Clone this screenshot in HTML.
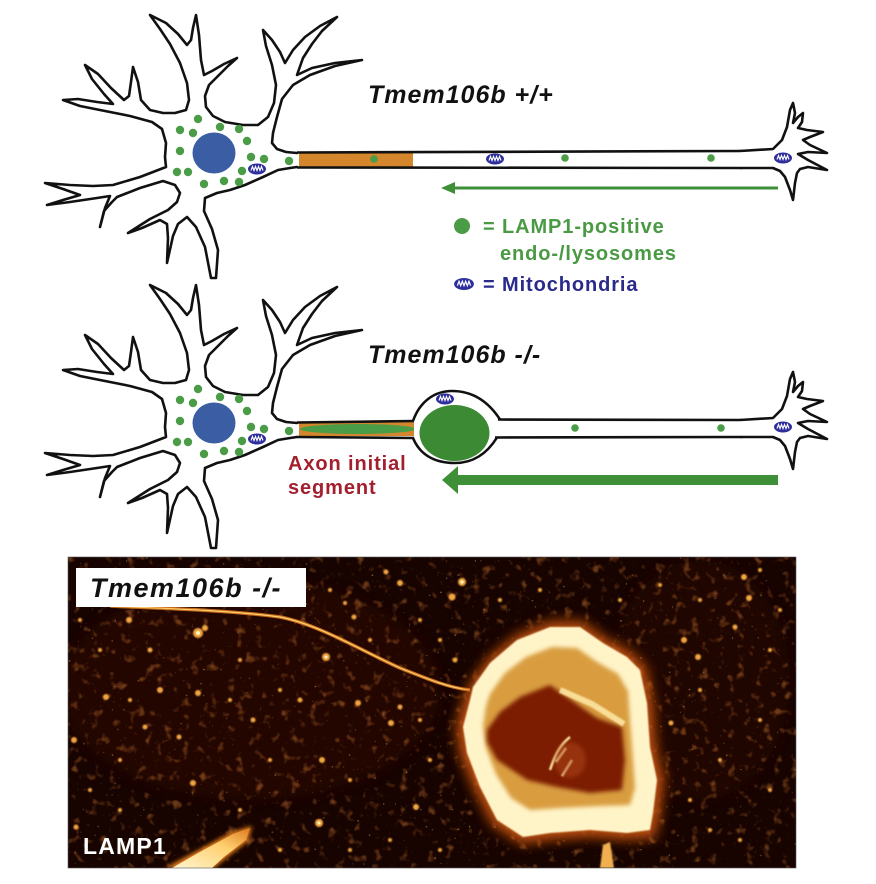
<!DOCTYPE html>
<html><head><meta charset="utf-8"><style>
html,body{margin:0;padding:0;background:#fff;}
svg{display:block;}
</style></head><body>
<svg width="876" height="884" viewBox="0 0 876 884" xmlns="http://www.w3.org/2000/svg">
<defs>
  <g id="mito"><ellipse rx="9" ry="5.5" fill="#2d2d9c"/><path d="M-6,1.5 L-4.5,-2.5 L-3,1.5 L-1.5,-2.5 L0,1.5 L1.5,-2.5 L3,1.5 L4.5,-2.5 L6,1.5" stroke="#fff" stroke-width="1.1" fill="none"/></g>
  <g id="soma">
    <path fill="#fff" stroke="#111" stroke-width="2.6" stroke-linejoin="round" stroke-linecap="round" d="M297,153 L286,152 277,149 272,143 273,133 277,117 282,99 293,85 310,75 335,66 362,60 335,63 312,68 297,75 303,58 312,44 322,31 337,17 320,26 305,37 293,50 285,63 280,52 272,40 263,30 266,46 272,65 276,85 274,103 268,117 258,125 243,125 225,122 213,116 206,107 205,96 209,85 219,75 228,66 237,58 224,64 212,71 204,75 201,60 199,35 196,15 193,28 191,40 187,45 178,34 166,23 150,15 160,29 170,44 180,63 187,83 189,100 186,110 175,113 163,113 150,110 141,100 138,82 133,67 131,82 129,96 124,100 111,88 98,74 85,65 92,79 104,94 113,104 97,102 78,99 63,100 80,106 105,111 130,116 152,122 162,129 166,143 165,157 166,167 140,177 113,185 93,186 70,185 45,183 63,189 80,195 63,200 47,205 70,202 97,198 110,196 105,208 100,227 104,211 112,202 117,197 140,188 163,181 175,185 180,193 177,202 168,210 150,219 128,233 142,228 160,220 167,224 168,238 167,263 171,245 173,236 178,224 187,217 196,227 205,247 211,278 216,278 218,250 212,229 204,211 205,198 217,193 230,190 245,185 263,177 278,170 290,168 297,167"/>
    <ellipse cx="214" cy="153" rx="21.5" ry="20.5" fill="#3a5da3"/>
    <g fill="#4b9c46">
      <circle cx="198" cy="119" r="4.2"/><circle cx="180" cy="130" r="4.2"/><circle cx="193" cy="133" r="4.2"/>
      <circle cx="220" cy="127" r="4.2"/><circle cx="239" cy="129" r="4.2"/><circle cx="247" cy="141" r="4.2"/>
      <circle cx="180" cy="151" r="4.2"/><circle cx="251" cy="157" r="4.2"/><circle cx="264" cy="159" r="4.2"/>
      <circle cx="289" cy="161" r="4.2"/><circle cx="177" cy="172" r="4.2"/><circle cx="188" cy="172" r="4.2"/>
      <circle cx="242" cy="171" r="4.2"/><circle cx="204" cy="184" r="4.2"/><circle cx="224" cy="181" r="4.2"/>
      <circle cx="239" cy="182" r="4.2"/>
    </g>
    <use href="#mito" transform="translate(257,169)"/>
  </g>
  <g id="gc">
    <path fill="#fff" stroke="#111" stroke-width="2.6" stroke-linejoin="round" d="M740,151 L773,149 782,140 787,127 790,110 793,103 795,113 793,123 798,117 803,113 802,122 798,128 807,130 823,132 810,137 803,140 810,145 827,153 808,152 798,154 808,160 827,170 808,167 800,169 797,173 795,183 793,200 790,190 785,177 780,171 773,168 L740,168"/>
    <use href="#mito" transform="translate(783,158)"/>
  </g>
  <filter id="spk" x="0" y="0" width="100%" height="100%">
    <feTurbulence type="fractalNoise" baseFrequency="0.11" numOctaves="2" seed="3"/>
    <feColorMatrix type="matrix" values="0 0 0 0 0.8  0 0 0 0 0.25  0 0 0 0 0.04  4 0 0 0 -2.35"/>
  </filter>
  <filter id="spk2" x="0" y="0" width="100%" height="100%">
    <feTurbulence type="fractalNoise" baseFrequency="0.35" numOctaves="1" seed="7"/>
    <feColorMatrix type="matrix" values="0 0 0 0 1  0 0 0 0 0.6  0 0 0 0 0.2  7 0 0 0 -5.0"/>
  </filter>
  <filter id="bl1"><feGaussianBlur stdDeviation="0.8"/></filter>
  <filter id="bl2"><feGaussianBlur stdDeviation="2"/></filter>
  <filter id="bl6" x="-20%" y="-20%" width="140%" height="140%"><feGaussianBlur stdDeviation="6"/></filter>
  <clipPath id="pc"><rect x="68" y="557" width="728" height="311"/></clipPath>
  <linearGradient id="comet" x1="0" y1="1" x2="1" y2="0">
    <stop offset="0" stop-color="#fff6d0"/><stop offset="0.6" stop-color="#ffd070"/><stop offset="1" stop-color="#e07a20"/>
  </linearGradient>
</defs>

<!-- TOP NEURON -->
<use href="#soma"/>
<rect x="299" y="153" width="114" height="14" fill="#d3862b"/>
<line x1="297" y1="152.5" x2="742" y2="151" stroke="#111" stroke-width="2.6"/>
<line x1="297" y1="167.5" x2="742" y2="168" stroke="#111" stroke-width="2.6"/>
<use href="#gc"/>
<circle cx="374" cy="159" r="3.8" fill="#4b9c46"/>
<use href="#mito" transform="translate(495,159)"/>
<circle cx="565" cy="158" r="3.8" fill="#4b9c46"/>
<circle cx="711" cy="158" r="3.8" fill="#4b9c46"/>
<line x1="452" y1="188" x2="778" y2="188" stroke="#3f8f38" stroke-width="3"/>
<polygon points="441,188 455,182 455,194" fill="#3f8f38"/>

<text x="368" y="103" font-family="Liberation Sans, Arial, sans-serif" font-size="25" font-weight="bold" font-style="italic" letter-spacing="1" fill="#111">Tmem106b +/+</text>

<!-- Legend -->
<circle cx="462" cy="226" r="8" fill="#4b9c46"/>
<text x="483" y="233" font-family="Liberation Sans, Arial, sans-serif" font-size="20" font-weight="bold" letter-spacing="0.9" fill="#4a9a44">= LAMP1-positive</text>
<text x="500" y="260" font-family="Liberation Sans, Arial, sans-serif" font-size="20" font-weight="bold" letter-spacing="0.9" fill="#4a9a44">endo-/lysosomes</text>
<use href="#mito" transform="translate(464,284) scale(1.1)"/>
<text x="483" y="291" font-family="Liberation Sans, Arial, sans-serif" font-size="20" font-weight="bold" letter-spacing="0.9" fill="#2a2a8c">= Mitochondria</text>

<!-- BOTTOM NEURON -->
<use href="#soma" transform="translate(0,270)"/>
<rect x="299" y="422" width="117" height="14" fill="#d3862b"/>
<ellipse cx="358" cy="429" rx="58" ry="5" fill="#4b9c46"/>
<line x1="297" y1="422.5" x2="414" y2="421" stroke="#111" stroke-width="2.6"/>
<line x1="297" y1="437" x2="414" y2="438" stroke="#111" stroke-width="2.6"/>
<path d="M413,421 C420,401 435,391 452,391 C472,391 488,401 500,419.5" fill="#fff" stroke="#111" stroke-width="2.6"/>
<path d="M413,438 C420,455 435,463 455,463 C475,463 488,452 497,437.5" fill="#fff" stroke="#111" stroke-width="2.6"/>
<rect x="414" y="421" width="84" height="16" fill="#fff"/>
<line x1="498" y1="419.5" x2="742" y2="420" stroke="#111" stroke-width="2.6"/>
<line x1="495" y1="437.5" x2="742" y2="437" stroke="#111" stroke-width="2.6"/>
<use href="#gc" transform="translate(0,269)"/>
<ellipse cx="454.5" cy="433" rx="35" ry="28" fill="#3c8a33"/>
<use href="#mito" transform="translate(445,399)"/>
<circle cx="575" cy="428" r="3.8" fill="#4b9c46"/>
<circle cx="721" cy="428" r="3.8" fill="#4b9c46"/>
<rect x="456" y="475" width="322" height="10" fill="#3f8f38"/>
<polygon points="442,480 458,466 458,494" fill="#3f8f38"/>

<text x="368" y="363" font-family="Liberation Sans, Arial, sans-serif" font-size="25" font-weight="bold" font-style="italic" letter-spacing="1" fill="#111">Tmem106b -/-</text>
<text x="288" y="470" font-family="Liberation Sans, Arial, sans-serif" font-size="20" font-weight="bold" letter-spacing="0.9" fill="#a31f2e">Axon initial</text>
<text x="288" y="494" font-family="Liberation Sans, Arial, sans-serif" font-size="20" font-weight="bold" letter-spacing="0.9" fill="#a31f2e">segment</text>

<!-- PHOTO -->
<g clip-path="url(#pc)">
  <rect x="68" y="557" width="728" height="311" fill="#170300"/>
  <ellipse cx="250" cy="690" rx="190" ry="110" fill="#3a0c00" opacity="0.35" filter="url(#bl6)"/>
  <ellipse cx="700" cy="680" rx="90" ry="120" fill="#300a00" opacity="0.35" filter="url(#bl6)"/>
  <rect x="68" y="557" width="728" height="311" filter="url(#spk)" opacity="0.4"/>
  <rect x="68" y="557" width="728" height="311" filter="url(#spk2)" opacity="0.55"/>
  <g fill="#f2a640" filter="url(#bl1)">
    <circle cx="462" cy="582" r="4"/><circle cx="452" cy="597" r="3.5"/><circle cx="400" cy="583" r="3"/><circle cx="386" cy="572" r="2.5"/>
    <circle cx="198" cy="633" r="5"/><circle cx="205" cy="628" r="3"/><circle cx="129" cy="620" r="3"/><circle cx="326" cy="657" r="4"/>
    <circle cx="358" cy="703" r="3"/><circle cx="322" cy="760" r="3"/><circle cx="416" cy="807" r="3"/><circle cx="319" cy="823" r="4"/>
    <circle cx="193" cy="783" r="3"/><circle cx="145" cy="727" r="2.5"/><circle cx="74" cy="740" r="3"/><circle cx="106" cy="697" r="3"/>
    <circle cx="744" cy="577" r="3"/><circle cx="749" cy="598" r="3"/><circle cx="684" cy="640" r="3"/><circle cx="698" cy="657" r="3"/>
    <circle cx="671" cy="723" r="2.5"/><circle cx="735" cy="627" r="2.5"/><circle cx="354" cy="617" r="2.5"/><circle cx="345" cy="603" r="2"/>
    <circle cx="455" cy="660" r="2.5"/><circle cx="198" cy="693" r="3"/><circle cx="179" cy="737" r="2.5"/><circle cx="253" cy="720" r="2.5"/>
    <circle cx="391" cy="723" r="3"/><circle cx="400" cy="707" r="2.5"/><circle cx="76" cy="827" r="2.5"/><circle cx="606" cy="852" r="3"/>
    <circle cx="130" cy="700" r="2"/><circle cx="160" cy="690" r="3"/><circle cx="230" cy="700" r="2"/><circle cx="270" cy="760" r="2"/>
    <circle cx="300" cy="700" r="2.5"/><circle cx="350" cy="780" r="2"/><circle cx="390" cy="840" r="2"/><circle cx="430" cy="760" r="2"/>
    <circle cx="700" cy="690" r="2"/><circle cx="720" cy="760" r="2"/><circle cx="760" cy="720" r="2"/><circle cx="690" cy="800" r="2"/>
    <circle cx="770" cy="650" r="2"/><circle cx="740" cy="840" r="2"/><circle cx="80" cy="620" r="2"/><circle cx="100" cy="650" r="2"/>
    <circle cx="150" cy="650" r="2.5"/><circle cx="240" cy="660" r="2"/><circle cx="280" cy="690" r="2"/><circle cx="420" cy="620" r="2"/>
    <circle cx="440" cy="640" r="2"/><circle cx="500" cy="600" r="2"/><circle cx="540" cy="590" r="2"/><circle cx="620" cy="600" r="2"/>
    <circle cx="660" cy="585" r="2"/><circle cx="700" cy="600" r="2"/><circle cx="760" cy="570" r="2"/><circle cx="780" cy="610" r="2"/>
    <circle cx="770" cy="790" r="2"/><circle cx="710" cy="830" r="2"/><circle cx="90" cy="790" r="2"/><circle cx="120" cy="810" r="2"/>
    <circle cx="240" cy="810" r="2"/><circle cx="280" cy="850" r="2"/><circle cx="350" cy="850" r="2"/><circle cx="440" cy="850" r="2"/>
    <circle cx="420" cy="720" r="2"/><circle cx="120" cy="760" r="2"/><circle cx="330" cy="590" r="2"/><circle cx="370" cy="640" r="2"/>
  </g>
  <g fill="#fff3c0">
    <circle cx="462" cy="582" r="1.6"/><circle cx="198" cy="633" r="2"/><circle cx="326" cy="657" r="1.5"/><circle cx="319" cy="823" r="1.5"/>
  </g>
  <!-- filament -->
  <path d="M110,606 C150,608 230,610 280,617 C320,625 360,650 400,668 C430,680 450,688 470,690" fill="none" stroke="#d9781e" stroke-width="3.5" opacity="0.9"/>
  <path d="M110,606 C150,608 230,610 280,617 C320,625 360,650 400,668 C430,680 450,688 470,690" fill="none" stroke="#ffd070" stroke-width="1.2"/>
  <!-- comet -->
  <polygon points="165,868 195,852 232,832 252,826 248,841 226,858 214,868" fill="#e8801f" filter="url(#bl2)"/>
  <polygon points="172,868 198,853 233,834 250,828 246,840 224,857 212,868" fill="url(#comet)"/>
  <!-- cell glow -->
  <polygon points="470,684 488,658 516,635 550,621 582,621 606,638 631,652 646,667 653,703 656,747 664,780 660,815 655,838 627,840 590,837 550,840 521,844 492,825 474,790 460,755 456,727 464,698" fill="#d0560f" filter="url(#bl6)" opacity="0.9"/>
  <!-- ring -->
  <polygon points="473,687 490,663 517,640 550,627 580,627 603,643 627,657 640,670 647,703 650,747 657,780 653,813 650,830 627,833 590,830 550,833 523,837 497,820 480,787 467,753 463,727 470,700" fill="#fff4c8" filter="url(#bl1)"/>
  <!-- inner gold -->
  <polygon points="490,694 505,673 526,657 552,647 577,648 597,662 618,674 628,691 630,720 633,760 635,788 630,805 600,806 560,808 530,810 511,798 496,774 486,748 483,726 486,706" fill="#d99d40" filter="url(#bl2)"/>
  <!-- dark center -->
  <polygon points="487,730 500,712 520,697 550,685 567,697 597,718 622,727 625,760 622,790 590,793 557,787 527,780 497,760 487,742" fill="#7c1d06" filter="url(#bl2)"/>
  <path d="M560,690 L592,704 L624,724" fill="none" stroke="#ffeaa8" stroke-width="6" opacity="0.85" filter="url(#bl1)"/>
  <path d="M550,770 C555,755 560,745 570,737 M556,762 L566,748 M562,776 L572,760" fill="none" stroke="#ffe6a0" stroke-width="2.5" filter="url(#bl1)"/>
  <ellipse cx="570" cy="760" rx="16" ry="18" fill="#b0481a" opacity="0.5" filter="url(#bl2)"/>
  <!-- bright bits below cell -->
  <polygon points="600,868 603,845 610,842 614,868" fill="#f0b050" filter="url(#bl1)"/>
</g>
<rect x="68" y="557" width="728" height="311" fill="none" stroke="#555" stroke-width="0.6"/>
<rect x="76" y="568" width="230" height="39" fill="#fff"/>
<text x="90" y="597" font-family="Liberation Sans, Arial, sans-serif" font-size="27" font-weight="bold" font-style="italic" letter-spacing="1.5" fill="#111">Tmem106b -/-</text>
<text x="83" y="854" font-family="Liberation Sans, Arial, sans-serif" font-size="23" font-weight="bold" letter-spacing="1.2" fill="#fff">LAMP1</text>
</svg>
</body></html>
